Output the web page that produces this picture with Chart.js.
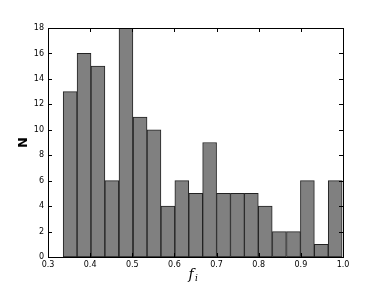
<!DOCTYPE html>
<html>
<head>
<meta charset="utf-8">
<script src="https://cdn.jsdelivr.net/npm/chart.js@4.4.0/dist/chart.umd.min.js"></script>
<style>
  html, body { margin: 0; padding: 0; background: #fff; }
  #wrap { width: 382px; height: 286px; }
</style>
</head>
<body>
<div id="wrap"><canvas id="hist"></canvas></div>
<script>
// bin centres (edges ~0.336 .. ~0.998, 20 bins)
const binCenters = [0.3525, 0.3855, 0.4185, 0.4515, 0.485, 0.5185, 0.5515, 0.5845, 0.6175, 0.6505,
                    0.6835, 0.7165, 0.7495, 0.7825, 0.8155, 0.849, 0.8825, 0.9155, 0.9485, 0.9815];
const counts = [13, 16, 15, 6, 18, 11, 10, 4, 6, 5, 9, 5, 5, 5, 4, 2, 2, 6, 1, 6];
const xTicks = [0.3, 0.4, 0.5, 0.6, 0.7, 0.8, 0.9, 1.0];
const yTicks = [0, 2, 4, 6, 8, 10, 12, 14, 16, 18];

const frameAndTicks = {
    id: "frameAndTicks",
    afterDraw(chart) {
        const { ctx, chartArea: a, scales } = chart;
        ctx.save();
        ctx.strokeStyle = "#000";
        ctx.lineWidth = 1;
        ctx.beginPath();
        xTicks.forEach(v => {
            const px = Math.round(scales.x.getPixelForValue(v)) + 0.5;
            ctx.moveTo(px, a.bottom); ctx.lineTo(px, a.bottom - 4);
            ctx.moveTo(px, a.top); ctx.lineTo(px, a.top + 4);
        });
        yTicks.forEach(v => {
            const py = Math.round(scales.y.getPixelForValue(v)) + 0.5;
            ctx.moveTo(a.left, py); ctx.lineTo(a.left + 4, py);
            ctx.moveTo(a.right, py); ctx.lineTo(a.right - 4, py);
        });
        ctx.stroke();
        ctx.strokeRect(Math.round(a.left) + 0.5, Math.round(a.top) + 0.5,
            Math.round(a.right - a.left), Math.round(a.bottom - a.top));

        // axis labels
        ctx.fillStyle = "#000";
        ctx.textBaseline = "middle";
        ctx.textAlign = "center";
        ctx.save();
        ctx.translate(24, (a.top + a.bottom) / 2);
        ctx.rotate(-Math.PI / 2);
        ctx.font = "bold 13px 'DejaVu Sans'";
        ctx.fillText("N", 0, 0);
        ctx.restore();

        const cx = (a.left + a.right) / 2;
        ctx.textAlign = "left";
        ctx.font = "italic 14px 'DejaVu Serif'";
        ctx.fillText("f", cx - 7, 275);
        ctx.font = "italic 9px 'DejaVu Serif'";
        ctx.fillText("i", cx - 0.5, 279);
        ctx.restore();
    }
};

new Chart(document.getElementById("hist"), {
    type: "bar",
    data: {
        datasets: [{
            data: binCenters.map((x, i) => ({ x, y: counts[i] })),
            backgroundColor: "#808080",
            borderColor: "#222",
            borderWidth: 1,
            borderSkipped: false,
            barPercentage: 1,
            categoryPercentage: 1
        }]
    },
    options: {
        responsive: true,
        maintainAspectRatio: false,
        animation: false,
        layout: { padding: { top: 28, right: 39, left: 0, bottom: 0 } },
        plugins: { legend: { display: false }, tooltip: { enabled: false } },
        scales: {
            x: {
                type: "linear",
                min: 0.3,
                max: 1.0,
                offset: false,
                afterFit(s) { s.height = 29; },
                afterBuildTicks(s) { s.ticks = xTicks.map(v => ({ value: v })); },
                grid: { display: false, drawTicks: false },
                border: { display: false },
                ticks: {
                    color: "#000",
                    font: { family: "DejaVu Sans", size: 8 },
                    padding: 3,
                    maxRotation: 0,
                    autoSkip: false,
                    callback: v => v.toFixed(1)
                }
            },
            y: {
                min: 0,
                max: 18,
                afterFit(s) { s.width = 48; },
                afterBuildTicks(s) { s.ticks = yTicks.map(v => ({ value: v })); },
                grid: { display: false, drawTicks: false },
                border: { display: false },
                ticks: {
                    color: "#000",
                    font: { family: "DejaVu Sans", size: 8 },
                    padding: 4,
                    autoSkip: false
                }
            }
        }
    },
    plugins: [frameAndTicks]
});
</script>
</body>
</html>
